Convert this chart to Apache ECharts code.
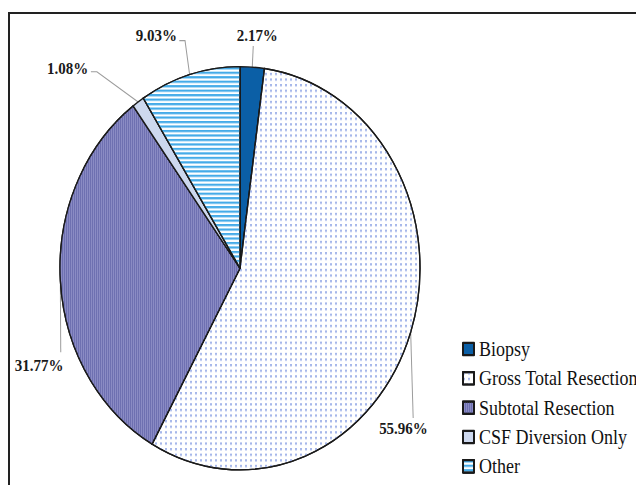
<!DOCTYPE html>
<html>
<head>
<meta charset="utf-8">
<script src="https://cdn.jsdelivr.net/npm/echarts@6/dist/echarts.min.js"></script>
<style>
  html, body { margin: 0; padding: 0; background: #fff; width: 636px; height: 485px; overflow: hidden; }
  #frame {
    position: absolute; left: 8px; top: 12px; width: 700px; height: 520px;
    border-left: 2px solid #222; border-top: 2px solid #222; box-sizing: border-box;
  }
  /* the figure is drawn at 636x433 and stretched vertically to fill 485px */
  #chart {
    position: absolute; left: 0; top: 0; width: 636px; height: 433px;
    transform: scaleY(1.12); transform-origin: 0 0;
  }
</style>
</head>
<body>
<div id="frame"></div>
<div id="chart"></div>
<script>
// Share of patients by surgical procedure (%)
const categories = ['Biopsy', 'Gross Total Resection', 'Subtotal Resection', 'CSF Diversion Only', 'Other'];
const shares = [2.17, 55.96, 31.77, 1.08, 9.03];

const SERIF = "'Liberation Serif', 'Times New Roman', Times, serif";

// Fill and hatching of each slice
const sliceStyles = [
  { color: '#0b5fa6' },
  { color: '#ffffff', decal: { symbol: 'rect', symbolSize: 1, dashArrayX: [2, 2.2], dashArrayY: [2, 2.2], color: '#a6b7ea' } },
  { color: '#8a8bc4', decal: { symbol: 'rect', symbolSize: 1, dashArrayX: [1, 1], dashArrayY: [20, 0], color: '#6e70b1' } },
  { color: '#cdd8ee' },
  { color: '#ffffff', decal: { symbol: 'rect', symbolSize: 1, dashArrayX: [20, 0], dashArrayY: [1.5, 1.5], color: '#45abe8' } }
];

// Leader-line bends and label anchors, relative to where each line leaves the slice
const labelPlacement = [
  { line: [[1, -18.8]], label: [5, -28.7], align: 'center' },
  { line: [[2.5, 76.6]], label: [-7.2, 85.3], align: 'center' },
  { line: [[0.4, 63.7]], label: [-21.2, 75.4], align: 'center' },
  { line: [[-41.3, -27], [-47.3, -27]], label: [-50, -30], align: 'right' },
  { line: [[-4.6, -30.4], [-10.3, -30.4]], label: [-12.6, -35.4], align: 'right' }
];

const chart = echarts.init(document.getElementById('chart'), null, { renderer: 'svg' });

chart.setOption({
  backgroundColor: 'transparent',
  animation: false,
  legend: {
    orient: 'vertical',
    left: 462,
    top: 302.6,
    padding: 0,
    icon: 'rect',
    itemWidth: 11,
    itemHeight: 11,
    itemGap: 8.2,
    selectedMode: false,
    textStyle: { fontFamily: SERIF, fontSize: 18, lineHeight: 18, color: '#111' },
    data: categories
  },
  series: [{
    type: 'pie',
    center: [240, 239.5],
    radius: 180,
    startAngle: 90,
    clockwise: true,
    avoidLabelOverlap: false,
    emphasis: { disabled: true },
    itemStyle: { borderColor: '#1a1a1a', borderWidth: 1.3 },
    label: {
      show: true,
      position: 'outside',
      formatter: p => p.value.toFixed(2) + '%',
      fontFamily: SERIF,
      fontWeight: 'bold',
      fontSize: 15,
      color: '#1a1a1a'
    },
    labelLine: { show: true, length: 10, length2: 10, lineStyle: { color: '#9c9c9c', width: 1 } },
    labelLayout: function (params) {
      const place = labelPlacement[params.dataIndex];
      const pts = params.labelLinePoints;
      if (!pts) return {};
      const e = [pts[0][0], pts[0][1]];
      return {
        x: e[0] + place.label[0],
        y: e[1] + place.label[1],
        align: place.align,
        verticalAlign: 'middle',
        labelLinePoints: [e].concat(place.line.map(d => [e[0] + d[0], e[1] + d[1]]))
      };
    },
    data: categories.map((name, i) => ({ name: name, value: shares[i], itemStyle: sliceStyles[i] }))
  }]
});
</script>
</body>
</html>
